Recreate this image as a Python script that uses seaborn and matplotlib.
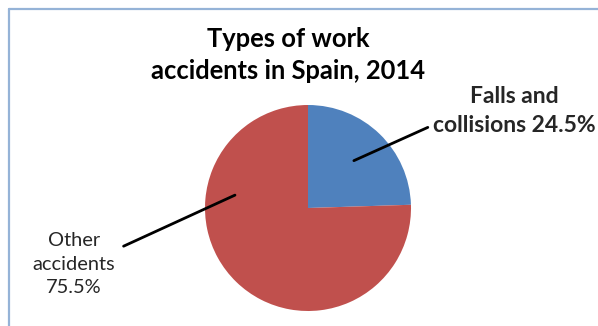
import matplotlib
matplotlib.use("Agg")
import matplotlib.pyplot as plt
import seaborn as sns
import numpy as np
from matplotlib.lines import Line2D

sns.set_theme(style="white")
plt.rcParams["font.family"] = ["Lato", "DejaVu Sans"]

# Data
categories = ["Falls and collisions", "Other accidents"]
shares = [24.5, 75.5]
title_text = "Types of work\naccidents in Spain, 2014"

colors = ["#4F81BD", "#C0504D"]

W, H = 598, 326
fig = plt.figure(figsize=(W / 100, H / 100), dpi=100)
ax = fig.add_axes([0, 0, 1, 1])
ax.set_xlim(0, W)
ax.set_ylim(0, H)
ax.set_aspect("equal")
ax.axis("off")

center = (308, H - 208)
radius = 103
wedges, _ = ax.pie(shares, colors=colors, startangle=90, counterclock=False,
                   center=center, radius=radius,
                   wedgeprops=dict(linewidth=0))
ax.set_xlim(0, W)
ax.set_ylim(0, H)

# chart frame (cut off at right and bottom)
frame_col = "#95B3D7"
fig.add_artist(Line2D([9 / W, 1.0], [1 - 9 / H, 1 - 9 / H], color=frame_col, lw=1.6))
fig.add_artist(Line2D([9 / W, 9 / W], [0, 1 - 9 / H], color=frame_col, lw=1.6))

ax.text(288, H - 55, title_text, ha="center", va="center", fontsize=18.4,
        fontweight="bold", color="#000000", linespacing=1.42)

# leader point for first slice along its mid-angle
mid = np.deg2rad(90 - shares[0] / sum(shares) * 360 / 2)
p1 = (center[0] + 0.64 * radius * np.cos(mid), center[1] + 0.64 * radius * np.sin(mid))
ax.annotate(f"Falls and\ncollisions {shares[0]}%", xy=p1, xytext=(514, H - 111),
            ha="center", va="center", fontsize=16.5, fontweight="bold",
            linespacing=1.45,
            arrowprops=dict(arrowstyle="-", color="black", lw=2,
                            shrinkA=0, shrinkB=0,
                            relpos=(-0.03, 0.17)))

p2 = (center[0] + 0.72 * radius * np.cos(np.deg2rad(170)),
      center[1] + 0.72 * radius * np.sin(np.deg2rad(170)))
ax.annotate(f"Other\naccidents\n{shares[1]}%", xy=p2, xytext=(74, H - 264),
            ha="center", va="center", fontsize=14.4,
            linespacing=1.45,
            arrowprops=dict(arrowstyle="-", color="black", lw=2,
                            shrinkA=0, shrinkB=0,
                            relpos=(1.1, 0.78)))

fig.savefig("out.png", dpi=100, facecolor="white")
